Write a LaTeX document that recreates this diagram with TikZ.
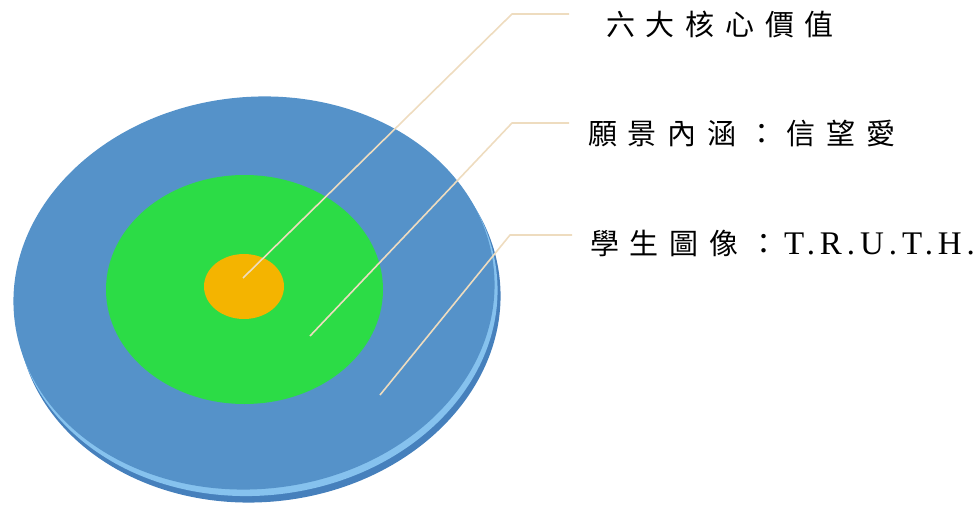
\documentclass[tikz,border=0pt]{standalone}
\usepackage{fontspec}
\usetikzlibrary{shapes.geometric}
\newfontfamily\cjk[LetterSpace=37]{Noto Sans CJK TC}
\newfontfamily\latn[LetterSpace=15]{Liberation Serif}
\definecolor{diskside}{HTML}{4680BC}
\definecolor{rimlight}{HTML}{86C2EE}
\definecolor{diskface}{HTML}{5592C9}
\definecolor{ringgreen}{HTML}{2CDC46}
\definecolor{coreorange}{HTML}{F4B400}
\definecolor{leader}{HTML}{EEDCBF}
\begin{document}
\begin{tikzpicture}[x=1pt,y=-1pt,
  leaderline/.style={draw=leader,line width=1.6pt,line join=round},
  lbltext/.style={anchor=west,inner sep=0pt,text=black,font=\cjk\fontsize{29}{32}\selectfont}]
\useasboundingbox (0,0) rectangle (978,506);
% disk layers
\fill[diskside,rotate around={6:(259,304)}] (259,304) ellipse [x radius=242,y radius=198];
\fill[rimlight,rotate around={6:(256.5,298.5)}] (256.5,298.5) ellipse [x radius=241.5,y radius=197];
\fill[diskface,rotate around={6:(254,293)}] (254,293) ellipse [x radius=241,y radius=196];
\node[ellipse,fill=ringgreen,minimum width=277,minimum height=229,inner sep=0pt] (green) at (244.5,289.5) {};
\node[ellipse,fill=coreorange,minimum width=80,minimum height=65,inner sep=0pt] (core) at (244,286.5) {};
% labels
\node[lbltext] (t1) at (606,24) {六大核心價值};
\node[lbltext] (t2) at (588,134) {願景內涵：信望愛};
\node[lbltext] (t3) at (590,243) {學生圖像：\hspace{6pt}{\latn\fontsize{33}{33}\selectfont T.R.U.T.H.}};
% leader points
\coordinate (p1) at (243,278);
\coordinate (k1) at (512,14);
\coordinate (e1) at (569,14);
\coordinate (p2) at (310,336);
\coordinate (k2) at (512,123);
\coordinate (e2) at (569,123);
\coordinate (p3) at (380,395);
\coordinate (k3) at (510,235);
\coordinate (e3) at (572,235);
\draw[leaderline] (p1) -- (k1) -- (e1);
\draw[leaderline] (p2) -- (k2) -- (e2);
\draw[leaderline] (p3) -- (k3) -- (e3);
\end{tikzpicture}
\end{document}
